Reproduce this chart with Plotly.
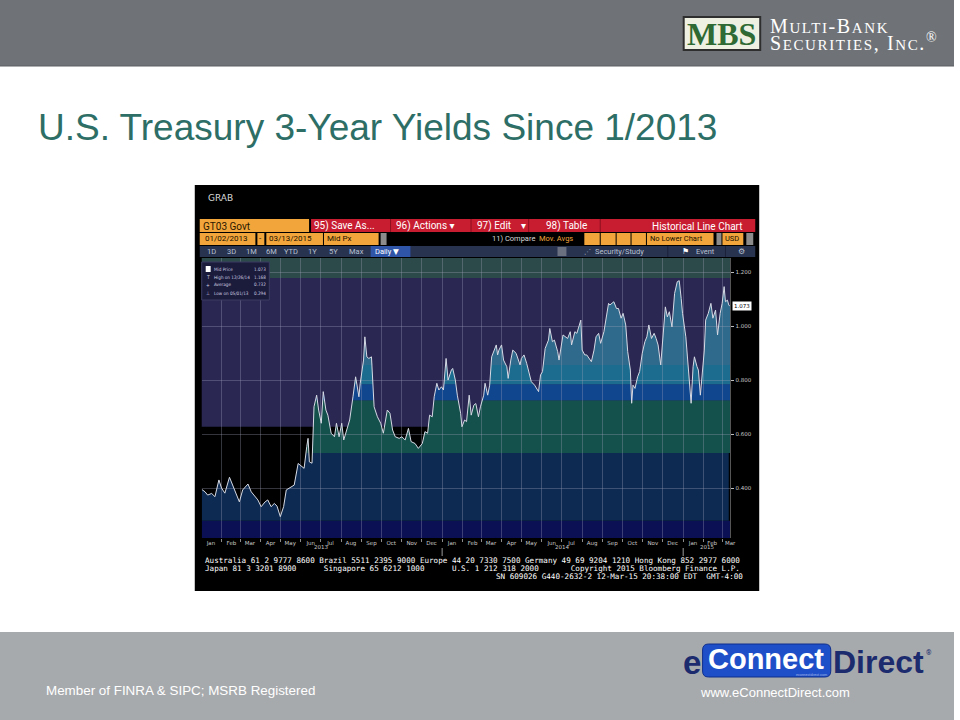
import plotly.graph_objects as go

# ---------------- data ----------------
dates = [
 "2013-01-02","2013-01-07","2013-01-11","2013-01-17","2013-01-22","2013-01-28","2013-02-01","2013-02-06",
 "2013-02-13","2013-02-18","2013-02-22","2013-02-28","2013-03-05","2013-03-13","2013-03-18","2013-03-22",
 "2013-03-28","2013-04-02","2013-04-08","2013-04-12","2013-04-17","2013-04-22","2013-04-26","2013-05-01",
 "2013-05-06","2013-05-10","2013-05-17","2013-05-22","2013-05-28","2013-05-31","2013-06-06","2013-06-10",
 "2013-06-12","2013-06-14","2013-06-18","2013-06-21","2013-06-25","2013-06-28","2013-07-02","2013-07-05",
 "2013-07-09","2013-07-12","2013-07-17","2013-07-22","2013-07-25","2013-07-29","2013-08-02","2013-08-05",
 "2013-08-09","2013-08-14","2013-08-19","2013-08-23","2013-08-28","2013-08-30","2013-09-04","2013-09-06",
 "2013-09-09","2013-09-12","2013-09-16","2013-09-18","2013-09-20","2013-09-25","2013-09-30","2013-10-04",
 "2013-10-10","2013-10-14","2013-10-18","2013-10-22","2013-10-28","2013-11-01","2013-11-06","2013-11-11",
 "2013-11-15","2013-11-21","2013-11-26","2013-12-02","2013-12-06","2013-12-10","2013-12-13","2013-12-17",
 "2013-12-20","2013-12-24","2013-12-27","2013-12-31","2014-01-03","2014-01-07","2014-01-10","2014-01-15",
 "2014-01-17","2014-01-21","2014-01-24","2014-01-29","2014-01-31","2014-02-04","2014-02-07","2014-02-11",
 "2014-02-14","2014-02-18","2014-02-21","2014-02-25","2014-02-28","2014-03-05","2014-03-07","2014-03-11",
 "2014-03-14","2014-03-17","2014-03-20","2014-03-24","2014-03-26","2014-03-28","2014-04-01","2014-04-04",
 "2014-04-09","2014-04-11","2014-04-15","2014-04-18","2014-04-23","2014-04-29","2014-05-01","2014-05-05",
 "2014-05-09","2014-05-14","2014-05-16","2014-05-21","2014-05-27","2014-05-30","2014-06-02","2014-06-06",
 "2014-06-11","2014-06-13","2014-06-17","2014-06-20","2014-06-25","2014-06-27","2014-07-02","2014-07-03",
 "2014-07-10","2014-07-14","2014-07-16","2014-07-21","2014-07-24","2014-07-28","2014-07-30","2014-08-01",
 "2014-08-05","2014-08-08","2014-08-15","2014-08-19","2014-08-22","2014-08-26","2014-08-29","2014-09-03",
 "2014-09-05","2014-09-10","2014-09-12","2014-09-18","2014-09-22","2014-09-25","2014-09-29","2014-10-02",
 "2014-10-06","2014-10-09","2014-10-13","2014-10-15","2014-10-17","2014-10-20","2014-10-24","2014-10-27",
 "2014-10-31","2014-11-04","2014-11-07","2014-11-10","2014-11-14","2014-11-18","2014-11-21","2014-11-24",
 "2014-11-28","2014-12-01","2014-12-05","2014-12-08","2014-12-11","2014-12-15","2014-12-18","2014-12-19",
 "2014-12-23","2014-12-26","2014-12-29","2014-12-31","2015-01-05","2015-01-08","2015-01-10","2015-01-13",
 "2015-01-16","2015-01-18","2015-01-22","2015-01-24","2015-01-27","2015-01-30","2015-02-02","2015-02-04",
 "2015-02-08","2015-02-12","2015-02-15","2015-02-19","2015-02-22","2015-02-26","2015-03-01","2015-03-04",
 "2015-03-06","2015-03-09","2015-03-11","2015-03-13",
]
yields = [
 0.395,0.386,0.374,0.380,0.368,0.430,0.400,0.381,
 0.440,0.410,0.380,0.349,0.393,0.415,0.386,0.374,
 0.356,0.331,0.349,0.356,0.331,0.343,0.333,0.294,
 0.331,0.393,0.405,0.411,0.491,0.485,0.473,0.553,
 0.584,0.497,0.492,0.701,0.744,0.689,0.640,0.757,
 0.689,0.670,0.603,0.590,0.640,0.590,0.640,0.578,
 0.615,0.652,0.738,0.812,0.738,0.788,0.874,0.960,
 0.886,0.880,0.886,0.788,0.701,0.664,0.640,0.603,
 0.689,0.677,0.615,0.590,0.584,0.590,0.578,0.621,
 0.572,0.565,0.547,0.565,0.609,0.603,0.670,0.664,
 0.738,0.788,0.763,0.775,0.763,0.880,0.800,0.837,
 0.843,0.800,0.744,0.677,0.627,0.652,0.646,0.744,
 0.670,0.707,0.713,0.664,0.701,0.744,0.788,0.744,
 0.781,0.886,0.905,0.930,0.893,0.911,0.930,0.874,
 0.849,0.806,0.874,0.911,0.899,0.856,0.880,0.893,
 0.862,0.812,0.794,0.781,0.757,0.819,0.831,0.917,
 0.948,0.991,0.942,0.948,0.905,0.874,0.954,0.967,
 0.954,0.979,0.930,0.979,0.973,1.010,1.022,0.911,
 0.893,0.893,0.868,0.911,0.960,0.973,0.936,0.979,
 1.010,1.084,1.078,1.090,1.065,1.065,1.029,1.047,
 1.004,0.905,0.837,0.714,0.781,0.769,0.812,0.831,
 0.899,0.942,0.960,1.004,0.954,0.973,0.954,0.930,
 0.856,0.960,1.071,1.034,1.053,0.997,1.090,1.121,
 1.164,1.168,1.102,1.047,0.960,0.874,0.812,0.714,
 0.849,0.886,0.849,0.837,0.744,0.837,0.911,1.022,
 1.047,1.084,1.029,1.059,0.967,1.047,1.084,1.146,
 1.090,1.096,1.078,1.073,
]

month_labels = ["Jan","Feb","Mar","Apr","May","Jun","Jul","Aug","Sep","Oct","Nov","Dec",
                "Jan","Feb","Mar","Apr","May","Jun","Jul","Aug","Sep","Oct","Nov","Dec",
                "Jan","Feb","Mar"]
month_label_dates = ([f"2013-{m:02d}-16" for m in range(1, 13)] +
                     [f"2014-{m:02d}-16" for m in range(1, 13)] +
                     ["2015-01-16", "2015-02-14", "2015-03-13"])
month_starts = ([f"2013-{m:02d}-01" for m in range(2, 13)] +
                [f"2014-{m:02d}-01" for m in range(1, 13)] +
                ["2015-01-01", "2015-02-01", "2015-03-01"])
year_labels = ["2013", "2014", "2015"]
year_label_dates = ["2013-07-01", "2014-07-01", "2015-02-06"]
year_breaks = ["2014-01-01", "2015-01-01"]
y_ticks = [0.4, 0.6, 0.8, 1.0, 1.2]
y_ticktext = ["0.400", "0.600", "0.800", "1.000", "1.200"]
legend_names = ["Mid Price", "High on 12/26/14", "Average", "Low on 05/01/13"]
legend_values = ["1.073", "1.168", "0.732", "0.294"]
last_value_text = "1.073"

# value bands of the Bloomberg fill (lower, upper, colour)
fill_bands = [(0.215, 0.279, "#0b0f54"), (0.279, 0.530, "#0d2b52"), (0.530, 0.725, "#14504c"),
              (0.725, 0.784, "#10468e"), (0.784, 0.856, "#1b6c8e"), (0.856, 1.252, "#2f6a8c")]
bg_bands = [(0.627, 1.178, "#2a2753"), (1.178, 1.252, "#2b4a49")]

# ---------------- layout helpers ----------------
W, H = 960, 720
def X(p): return p / W
def Y(p): return 1 - p / H

PL, PR, PT, PB = 203, 735, 258, 538
YMIN, YMAX = 0.215, 1.252
XR = ["2013-01-02", "2015-03-13 12:00"]

def ydom(v):
    return Y(PB) + (v - YMIN) / (YMAX - YMIN) * (Y(PT) - Y(PB))

shapes, ann = [], []
def rect(x0, y0, x1, y1, fill, line=None, lw=0, layer="below"):
    shapes.append(dict(type="rect", xref="paper", yref="paper", x0=X(x0), x1=X(x1), y0=Y(y1), y1=Y(y0),
                       fillcolor=fill, line=dict(color=line or fill, width=lw), layer=layer))
def hline(x0, x1, y, color, w=1, layer="below"):
    shapes.append(dict(type="line", xref="paper", yref="paper", x0=X(x0), x1=X(x1), y0=Y(y), y1=Y(y),
                       line=dict(color=color, width=w), layer=layer))
def vline(x, y0, y1, color, w=1, layer="below"):
    shapes.append(dict(type="line", xref="paper", yref="paper", x0=X(x), x1=X(x), y0=Y(y0), y1=Y(y1),
                       line=dict(color=color, width=w), layer=layer))
def txt(x, y, s, size, color, family="Roboto, DejaVu Sans, sans-serif", xa="left", ya="middle", **kw):
    ann.append(dict(xref="paper", yref="paper", x=X(x), y=Y(y), text=s, showarrow=False, xanchor=xa,
                    yanchor=ya, font=dict(size=size, color=color, family=family), borderpad=0, **kw))
def rrect_path(x0, y0, x1, y1, r):
    rx, ry = r / W, r / H
    a0, a1, b0, b1 = X(x0), X(x1), Y(y1), Y(y0)
    return (f"M{a0+rx},{b0} L{a1-rx},{b0} Q{a1},{b0} {a1},{b0+ry} L{a1},{b1-ry} Q{a1},{b1} {a1-rx},{b1} "
            f"L{a0+rx},{b1} Q{a0},{b1} {a0},{b1-ry} L{a0},{b0+ry} Q{a0},{b0} {a0+rx},{b0} Z")

# ---------------- slide header / footer ----------------
rect(0, 0, 960, 66, "#6f7378")
hline(0, 960, 66, "#5d6165", 1)
rect(687, 16, 766, 51, "#2e2e2e")
rect(689, 18, 764, 49, "#eef0e2")
txt(726.5, 34, "<b>MBS</b>", 32, "#2f6a34", family="Liberation Serif, serif", xa="center")
sc = "font-size:15px"
txt(774, 26, f"<span style='letter-spacing:1.6px'>M<span style='{sc}'>ULTI</span>-B<span style='{sc}'>ANK</span></span>",
    20, "#ffffff", family="Liberation Serif, serif")
txt(774, 42, f"<span style='letter-spacing:1.6px'>S<span style='{sc}'>ECURITIES</span>, I<span style='{sc}'>NC</span>.</span><sup>®</sup>",
    20, "#ffffff", family="Liberation Serif, serif")

txt(37, 127, "U.S. Treasury 3-Year Yields Since 1/2013", 37, "#2d6e66",
    family="Liberation Sans, Arial, sans-serif")

rect(0, 632, 960, 720, "#a7aaad")
narrow = "Liberation Sans Narrow, Arial Narrow, Liberation Sans, sans-serif"
txt(45, 690, "Member of FINRA &amp; SIPC; MSRB Registered", 13.4, "#ffffff", family=narrow)
txt(780, 692, "www.eConnectDirect.com", 13, "#ffffff", family=narrow, xa="center")
shapes.append(dict(type="path", xref="paper", yref="paper", path=rrect_path(707, 644, 836, 677, 6),
                   fillcolor="#1f4fc8", line=dict(color="#0f2f8c", width=1), layer="below"))
txt(696.5, 662, "<b>e</b>", 33, "#1c2a6e", family="Liberation Sans, Arial, sans-serif", xa="center")
txt(771, 659, "<b>Connect</b>", 29, "#ffffff", family="Liberation Sans, Arial, sans-serif", xa="center")
txt(837, 662, "<b>Direct</b>", 32, "#1c2a6e", family="Liberation Sans, Arial, sans-serif")
txt(931, 653, "®", 7, "#1c2a6e")
txt(833, 675, "econnectdirect.com", 3.5, "#9fb2e6", xa="right")

# ---------------- Bloomberg frame ----------------
rect(196, 185, 764, 591, "#000000")
txt(208, 198, "GRAB", 9, "#d8d8d8", family="DejaVu Sans, sans-serif")
ORANGE, RED = "#f2a53a", "#c81d31"
# row 1
rect(201, 219, 311, 232, ORANGE)
txt(203, 226, "GT03 Govt", 10, "#2a1800")
rect(313, 219, 760, 232, RED)
for sx in (393, 474, 532, 604):
    vline(sx, 219, 232, "#8e1020")
txt(315, 226, "95) Save As...", 10, "#ffffff")
txt(397, 226, "96) Actions ▾", 10, "#ffffff")
txt(479, 226, "97) Edit    ▾", 10, "#ffffff")
txt(548, 226, "98) Table", 10, "#ffffff")
txt(749, 226, "Historical Line Chart", 10, "#ffffff", xa="right")
# row 2
rect(201, 233, 257, 245, ORANGE)
txt(205, 239, "01/02/2013", 8, "#1a1000")
rect(259, 233, 266, 245, ORANGE)
txt(262.5, 239, "-", 8, "#1a1000", xa="center")
rect(268, 233, 325, 245, ORANGE)
txt(270, 239, "03/13/2015", 8, "#1a1000")
rect(326, 233, 381, 245, ORANGE)
txt(328, 239, "Mid Px", 8, "#1a1000")
rect(383, 233, 389, 245, "#8c8c8c")
txt(494, 239, "11) Compare", 7.5, "#d8d8d8")
txt(541, 239, "Mov. Avgs", 7.5, ORANGE)
rect(588, 233, 650, 245, ORANGE)
for sx in (604, 620, 635):
    vline(sx, 233, 245, "#000000")
rect(651, 233, 718, 245, ORANGE)
txt(653, 239, "No Lower Chart", 7.5, "#1a1000")
rect(721, 233, 726, 245, "#8c8c8c")
rect(727, 233, 748, 245, ORANGE)
txt(729, 239, "USD", 7.5, "#1a1000")
rect(751, 233, 758, 245, "#8c8c8c")
# row 3
rect(201, 246, 760, 257, "#283350")
for lab, lx in zip(["1D", "3D", "1M", "6M", "YTD", "1Y", "5Y", "Max"],
                   [207, 227, 247, 267, 285, 309, 330, 350]):
    txt(lx, 251.5, lab, 7.5, "#b8c0d0")
rect(373, 246, 413, 257, "#2f55a8")
txt(376, 251.5, "Daily ▼", 7.5, "#ffffff")
rect(561, 247, 570, 256, "#6a7080")
txt(587, 251.5, "⋰", 7, "#b8c0d0", family="DejaVu Sans, sans-serif")
txt(598, 251.5, "Security/Study", 7.5, "#b8c0d0")
vline(672, 246, 257, "#1a2038")
txt(685, 251.5, "⚑", 8, "#ffffff", family="DejaVu Sans, sans-serif")
txt(699, 251.5, "Event", 7.5, "#b8c0d0")
vline(730, 246, 257, "#1a2038")
txt(742, 251.5, "⚙", 8, "#b8c0d0", family="DejaVu Sans, sans-serif")

# background bands of the plot area (value-referenced, drawn under everything)
for lo, hi, col in bg_bands:
    shapes.append(dict(type="rect", xref="x domain", yref="y", x0=0, x1=1, y0=lo, y1=hi,
                       fillcolor=col, line=dict(width=0), layer="below"))

# legend box inside the chart
rect(203, 262, 271, 300, "#1b1b3c", line="#3c3c62", lw=1, layer="above")
rect(207, 266, 212, 272, "#ffffff", layer="above")
icons = ["", "T", "+", "⊥"]
lfont = "DejaVu Sans Condensed, Roboto, sans-serif"
for i, (nm, vv) in enumerate(zip(legend_names, legend_values)):
    yy = 269 + 8 * i
    if icons[i]:
        txt(209.5, yy, icons[i], 5, "#d0d0e0", xa="center", family=lfont)
    txt(214, yy, nm, 4.6, "#d0d0e0", family=lfont)
    txt(269, yy, vv, 4.6, "#d0d0e0", xa="right", family=lfont)

# year labels and separators under the axis
for lab, dx in zip(year_labels, year_label_dates):
    ann.append(dict(xref="x", yref="paper", x=dx, y=Y(552), text=lab, showarrow=False,
                    font=dict(size=5.5, color="#c8c8c8", family="DejaVu Sans, sans-serif")))
for bx in year_breaks:
    shapes.append(dict(type="line", xref="x", yref="paper", x0=bx, x1=bx, y0=Y(548), y1=Y(556),
                       line=dict(color="#9a9a9a", width=1)))

# footer of Bloomberg screen
mono = "DejaVu Sans Mono, monospace"
nb = "\u00a0"
txt(205, 560.5, "Australia 61 2 9777 8600 Brazil 5511 2395 9000 Europe 44 20 7330 7500 Germany 49 69 9204 1210 Hong Kong 852 2977 6000".replace(" ", nb),
    7.6, "#ffffff", family=mono)
txt(205, 568.5, ("Japan 81 3 3201 8900      Singapore 65 6212 1000      U.S. 1 212 318 2000       "
                 "Copyright 2015 Bloomberg Finance L.P.").replace(" ", nb), 7.6, "#ffffff", family=mono)
txt(749, 576.5, "SN 609026 G440-2632-2 12-Mar-15 20:38:00 EDT  GMT-4:00".replace(" ", nb), 7.6,
    "#ffffff", family=mono, xa="right")

# current value flag on the right axis
ann.append(dict(xref="paper", yref="y8", x=X(737), y=yields[-1], text=last_value_text, showarrow=False,
                xanchor="left", yanchor="middle", bgcolor="#ffffff", borderpad=1,
                font=dict(size=5.5, color="#000000", family="DejaVu Sans, sans-serif")))

# ---------------- traces ----------------
fig = go.Figure()
for k, (lo, hi, col) in enumerate(fill_bands):
    fig.add_trace(go.Scatter(x=dates, y=yields, xaxis="x", yaxis=f"y{k+2}", mode="lines",
                             line=dict(width=0), fill="tozeroy", fillcolor=col,
                             hoverinfo="skip", showlegend=False))
fig.add_trace(go.Scatter(x=dates, y=yields, xaxis="x2", yaxis="y8", mode="lines",
                         line=dict(color="#d6dae4", width=1), name="Mid Price", showlegend=False))

gridc = "rgba(165,165,190,0.32)"
layout = dict(
    width=W, height=H, margin=dict(l=0, r=0, t=0, b=0), paper_bgcolor="#ffffff",
    plot_bgcolor="rgba(0,0,0,0)", showlegend=False, shapes=shapes, annotations=ann,
    xaxis=dict(domain=[X(PL), X(PR)], range=XR, type="date", anchor="y",
               tickmode="array", tickvals=month_label_dates, ticktext=month_labels, ticks="",
               tickfont=dict(size=5.5, color="#c8c8c8", family="DejaVu Sans, sans-serif"),
               showgrid=False, zeroline=False, showline=False,
               minor=dict(tickmode="array", tickvals=month_starts, ticks="outside", ticklen=3,
                          tickcolor="#8a8a8a", showgrid=False)),
    xaxis2=dict(domain=[X(PL), X(PR)], range=XR, type="date", anchor="y8",
                tickmode="array", tickvals=month_label_dates, showticklabels=False, ticks="",
                showgrid=False, zeroline=False, showline=False,
                minor=dict(tickmode="array", tickvals=month_starts, ticks="",
                           showgrid=True, gridcolor=gridc, gridwidth=1)),
    yaxis=dict(domain=[Y(PB), Y(PT)], range=[YMIN, YMAX], anchor="x", visible=False,
               showgrid=False, zeroline=False),
)
for k, (lo, hi, col) in enumerate(fill_bands):
    layout[f"yaxis{k+2}"] = dict(domain=[ydom(lo), ydom(hi)], range=[lo, hi], anchor="x",
                                 visible=False, showgrid=False, zeroline=False)
layout["yaxis8"] = dict(domain=[Y(PB), Y(PT)], range=[YMIN, YMAX], anchor="x2", side="right",
                        tickmode="array", tickvals=y_ticks, ticktext=y_ticktext, ticks="outside",
                        ticklen=3, tickcolor="#bdbdbd",
                        tickfont=dict(size=5.5, color="#c8c8c8", family="DejaVu Sans, sans-serif"),
                        showgrid=True, gridcolor=gridc, gridwidth=1, zeroline=False,
                        showline=True, linecolor="#555555", linewidth=1)
fig.update_layout(**layout)
fig.write_html("out.html", config={"displayModeBar": False},
               post_script=("document.body.style.margin='0px';document.body.style.overflow='hidden';"
                            "document.documentElement.style.overflow='hidden';"))
